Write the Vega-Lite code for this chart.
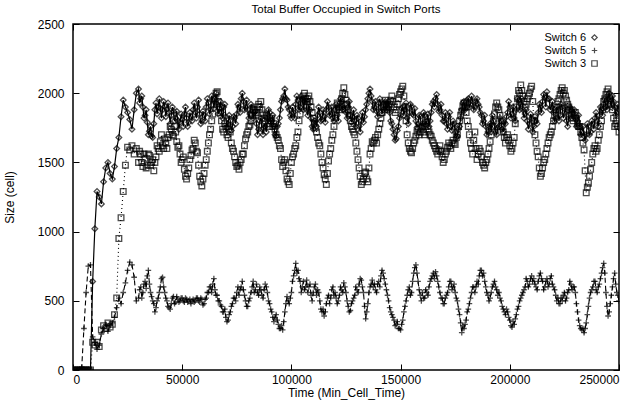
{
"$schema":"https://vega.github.io/schema/vega-lite/v6.json",
"width":546,"height":346,
"autosize":"none",
"padding":{"left":73,"top":24,"right":17,"bottom":31},
"title":{"text":"Total Buffer Occupied in Switch Ports","fontSize":11.5,"fontWeight":"normal","offset":3,"color":"black"},
"config":{"font":"Liberation Sans","view":{"stroke":"black","strokeWidth":1.5},
"axis":{"grid":false,"domain":false,"tickColor":"black","tickSize":-6,"labelPadding":10,"labelColor":"black","labelFontSize":12,"titleFontSize":12,"titleFontWeight":"normal","titleColor":"black"}},
"data":{"values":[
{"t":0,"a":0,"b":0,"c":0},{"t":1000,"a":0,"b":0,"c":0},{"t":2000,"a":0,"b":0,"c":0},{"t":3000,"a":0,"b":0,"c":0},{"t":4000,"a":0,"b":20,"c":0},{"t":5000,"a":0,"b":300,"c":0},{"t":6000,"a":0,"b":560,"c":0},{"t":7000,"a":0,"b":750,"c":0},{"t":8000,"a":0,"b":760,"c":0},{"t":9000,"a":640,"b":240,"c":200},
{"t":10000,"a":1020,"b":200,"c":180},{"t":11000,"a":1290,"b":150,"c":200},{"t":12000,"a":1250,"b":180,"c":170},{"t":13000,"a":1200,"b":260,"c":290},{"t":14000,"a":1360,"b":300,"c":320},{"t":15000,"a":1460,"b":330,"c":300},{"t":16000,"a":1500,"b":280,"c":340},{"t":17000,"a":1420,"b":320,"c":310},{"t":18000,"a":1380,"b":340,"c":330},{"t":19000,"a":1470,"b":380,"c":400},
{"t":20000,"a":1600,"b":450,"c":520},{"t":21000,"a":1680,"b":520,"c":950},{"t":22000,"a":1830,"b":480,"c":1100},{"t":23000,"a":1950,"b":560,"c":1290},{"t":24000,"a":1900,"b":630,"c":1480},{"t":25000,"a":1860,"b":720,"c":1610},{"t":26000,"a":1810,"b":780,"c":1590},{"t":27000,"a":1740,"b":760,"c":1620},{"t":28000,"a":1880,"b":670,"c":1560},{"t":29000,"a":2000,"b":500,"c":1600},
{"t":30000,"a":2030,"b":520,"c":1500},{"t":31000,"a":1960,"b":600,"c":1560},{"t":32000,"a":1900,"b":560,"c":1470},{"t":33000,"a":1840,"b":640,"c":1530},{"t":34000,"a":1790,"b":680,"c":1480},{"t":35000,"a":1725,"b":620,"c":1550},{"t":36000,"a":1690,"b":530,"c":1500},{"t":37000,"a":1780,"b":480,"c":1440},{"t":38000,"a":1930,"b":450,"c":1540},{"t":39000,"a":1900,"b":520,"c":1600},
{"t":40000,"a":1890,"b":600,"c":1650},{"t":41000,"a":1880,"b":670,"c":1620},{"t":42000,"a":1905,"b":560,"c":1670},{"t":43000,"a":1885,"b":500,"c":1600},{"t":44000,"a":1860,"b":450,"c":1700},{"t":45000,"a":1840,"b":480,"c":1740},{"t":46000,"a":1870,"b":530,"c":1690},{"t":47000,"a":1820,"b":490,"c":1720},{"t":48000,"a":1800,"b":510,"c":1610},{"t":49000,"a":1790,"b":500,"c":1560},
{"t":50000,"a":1810,"b":520,"c":1520},{"t":51000,"a":1850,"b":490,"c":1450},{"t":52000,"a":1820,"b":510,"c":1380},{"t":53000,"a":1790,"b":500,"c":1460},{"t":54000,"a":1830,"b":480,"c":1550},{"t":55000,"a":1880,"b":510,"c":1600},{"t":56000,"a":1860,"b":500,"c":1640},{"t":57000,"a":1900,"b":520,"c":1570},{"t":58000,"a":1850,"b":490,"c":1400},{"t":59000,"a":1800,"b":510,"c":1330},
{"t":60000,"a":1840,"b":480,"c":1420},{"t":61000,"a":1900,"b":520,"c":1520},{"t":62000,"a":1930,"b":560,"c":1640},{"t":63000,"a":1880,"b":600,"c":1740},{"t":64000,"a":1950,"b":620,"c":1850},{"t":65000,"a":1960,"b":580,"c":1960},{"t":66000,"a":1920,"b":540,"c":2010},{"t":67000,"a":1890,"b":500,"c":1900},{"t":68000,"a":1860,"b":460,"c":1800},{"t":69000,"a":1900,"b":420,"c":1720},
{"t":70000,"a":1830,"b":380,"c":1760},{"t":71000,"a":1780,"b":360,"c":1680},{"t":72000,"a":1800,"b":420,"c":1720},{"t":73000,"a":1760,"b":480,"c":1600},{"t":74000,"a":1820,"b":520,"c":1540},{"t":75000,"a":1850,"b":560,"c":1470},{"t":76000,"a":1900,"b":540,"c":1450},{"t":77000,"a":1960,"b":600,"c":1520},{"t":78000,"a":1940,"b":580,"c":1560},{"t":79000,"a":1900,"b":500,"c":1670},
{"t":80000,"a":1880,"b":460,"c":1720},{"t":81000,"a":1850,"b":520,"c":1770},{"t":82000,"a":1900,"b":600,"c":1840},{"t":83000,"a":1860,"b":560,"c":1880},{"t":84000,"a":1780,"b":620,"c":1860},{"t":85000,"a":1740,"b":540,"c":1920},{"t":86000,"a":1820,"b":580,"c":1940},{"t":87000,"a":1700,"b":520,"c":1850},{"t":88000,"a":1760,"b":620,"c":1800},{"t":89000,"a":1820,"b":560,"c":1830},
{"t":90000,"a":1860,"b":480,"c":1760},{"t":91000,"a":1800,"b":420,"c":1820},{"t":92000,"a":1760,"b":350,"c":1780},{"t":93000,"a":1690,"b":400,"c":1700},{"t":94000,"a":1780,"b":330,"c":1660},{"t":95000,"a":1880,"b":300,"c":1600},{"t":96000,"a":1960,"b":290,"c":1470},{"t":97000,"a":2030,"b":420,"c":1520},{"t":98000,"a":1950,"b":530,"c":1380},{"t":99000,"a":1880,"b":480,"c":1340},
{"t":100000,"a":1820,"b":560,"c":1500},{"t":101000,"a":1860,"b":680,"c":1560},{"t":102000,"a":1920,"b":770,"c":1620},{"t":103000,"a":1950,"b":720,"c":1720},{"t":104000,"a":1900,"b":640,"c":1850},{"t":105000,"a":1960,"b":600,"c":1950},{"t":106000,"a":1940,"b":580,"c":2000},{"t":107000,"a":1880,"b":650,"c":1940},{"t":108000,"a":1920,"b":600,"c":1980},{"t":109000,"a":1820,"b":540,"c":1900},
{"t":110000,"a":1740,"b":560,"c":1820},{"t":111000,"a":1800,"b":620,"c":1750},{"t":112000,"a":1840,"b":580,"c":1680},{"t":113000,"a":1860,"b":500,"c":1620},{"t":114000,"a":1810,"b":420,"c":1500},{"t":115000,"a":1830,"b":390,"c":1410},{"t":116000,"a":1880,"b":480,"c":1340},{"t":117000,"a":1900,"b":540,"c":1510},{"t":118000,"a":1850,"b":520,"c":1600},{"t":119000,"a":1820,"b":600,"c":1700},
{"t":120000,"a":1880,"b":560,"c":1820},{"t":121000,"a":1840,"b":480,"c":1930},{"t":122000,"a":1900,"b":540,"c":1880},{"t":123000,"a":1940,"b":580,"c":1960},{"t":124000,"a":1880,"b":630,"c":2040},{"t":125000,"a":1860,"b":560,"c":1950},{"t":126000,"a":1900,"b":460,"c":1880},{"t":127000,"a":1840,"b":430,"c":1800},{"t":128000,"a":1830,"b":500,"c":1740},{"t":129000,"a":1800,"b":540,"c":1700},
{"t":130000,"a":1840,"b":580,"c":1580},{"t":131000,"a":1760,"b":620,"c":1460},{"t":132000,"a":1800,"b":650,"c":1340},{"t":133000,"a":1790,"b":560,"c":1380},{"t":134000,"a":1880,"b":370,"c":1430},{"t":135000,"a":1960,"b":480,"c":1360},{"t":136000,"a":2030,"b":600,"c":1560},{"t":137000,"a":1940,"b":650,"c":1650},{"t":138000,"a":1900,"b":620,"c":1660},{"t":139000,"a":1870,"b":560,"c":1640},
{"t":140000,"a":1930,"b":640,"c":1740},{"t":141000,"a":1900,"b":680,"c":1820},{"t":142000,"a":1880,"b":700,"c":1900},{"t":143000,"a":1940,"b":620,"c":1950},{"t":144000,"a":1900,"b":540,"c":1880},{"t":145000,"a":1860,"b":450,"c":1920},{"t":146000,"a":1780,"b":400,"c":1980},{"t":147000,"a":1700,"b":360,"c":1900},{"t":148000,"a":1670,"b":330,"c":1880},{"t":149000,"a":1760,"b":300,"c":1960},
{"t":150000,"a":1840,"b":290,"c":2010},{"t":151000,"a":1900,"b":360,"c":2050},{"t":152000,"a":1880,"b":460,"c":1900},{"t":153000,"a":1820,"b":540,"c":1700},{"t":154000,"a":1860,"b":600,"c":1600},{"t":155000,"a":1900,"b":560,"c":1570},{"t":156000,"a":1840,"b":700,"c":1640},{"t":157000,"a":1800,"b":760,"c":1690},{"t":158000,"a":1780,"b":640,"c":1740},{"t":159000,"a":1830,"b":540,"c":1720},
{"t":160000,"a":1780,"b":560,"c":1760},{"t":161000,"a":1840,"b":520,"c":1700},{"t":162000,"a":1800,"b":560,"c":1790},{"t":163000,"a":1760,"b":600,"c":1720},{"t":164000,"a":1860,"b":660,"c":1690},{"t":165000,"a":1940,"b":700,"c":1640},{"t":166000,"a":1960,"b":710,"c":1600},{"t":167000,"a":1920,"b":640,"c":1560},{"t":168000,"a":1880,"b":560,"c":1620},{"t":169000,"a":1840,"b":520,"c":1540},
{"t":170000,"a":1800,"b":480,"c":1520},{"t":171000,"a":1780,"b":540,"c":1580},{"t":172000,"a":1830,"b":600,"c":1640},{"t":173000,"a":1760,"b":640,"c":1600},{"t":174000,"a":1800,"b":600,"c":1660},{"t":175000,"a":1720,"b":560,"c":1630},{"t":176000,"a":1690,"b":500,"c":1700},{"t":177000,"a":1760,"b":400,"c":1800},{"t":178000,"a":1880,"b":270,"c":1870},{"t":179000,"a":1940,"b":300,"c":1930},
{"t":180000,"a":1900,"b":360,"c":1860},{"t":181000,"a":1960,"b":440,"c":1760},{"t":182000,"a":1920,"b":520,"c":1640},{"t":183000,"a":1940,"b":600,"c":1560},{"t":184000,"a":1900,"b":560,"c":1720},{"t":185000,"a":1960,"b":640,"c":1520},{"t":186000,"a":1900,"b":680,"c":1600},{"t":187000,"a":1840,"b":720,"c":1540},{"t":188000,"a":1800,"b":700,"c":1480},{"t":189000,"a":1760,"b":600,"c":1500},
{"t":190000,"a":1720,"b":540,"c":1560},{"t":191000,"a":1780,"b":520,"c":1650},{"t":192000,"a":1840,"b":600,"c":1760},{"t":193000,"a":1760,"b":640,"c":1850},{"t":194000,"a":1700,"b":580,"c":1930},{"t":195000,"a":1760,"b":560,"c":1880},{"t":196000,"a":1800,"b":500,"c":1800},{"t":197000,"a":1720,"b":440,"c":1720},{"t":198000,"a":1780,"b":400,"c":1640},{"t":199000,"a":1860,"b":420,"c":1700},
{"t":200000,"a":1900,"b":360,"c":1620},{"t":201000,"a":1850,"b":310,"c":1600},{"t":202000,"a":1820,"b":330,"c":1680},{"t":203000,"a":1880,"b":400,"c":1900},{"t":204000,"a":1950,"b":460,"c":2020},{"t":205000,"a":1920,"b":520,"c":2060},{"t":206000,"a":1880,"b":560,"c":1980},{"t":207000,"a":1850,"b":600,"c":1900},{"t":208000,"a":1800,"b":640,"c":1960},{"t":209000,"a":1780,"b":620,"c":2000},
{"t":210000,"a":1820,"b":680,"c":2050},{"t":211000,"a":1760,"b":660,"c":1800},{"t":212000,"a":1800,"b":600,"c":1640},{"t":213000,"a":1860,"b":640,"c":1540},{"t":214000,"a":1900,"b":700,"c":1400},{"t":215000,"a":1940,"b":640,"c":1460},{"t":216000,"a":1970,"b":600,"c":1520},{"t":217000,"a":2010,"b":660,"c":1600},{"t":218000,"a":1960,"b":620,"c":1680},{"t":219000,"a":1900,"b":680,"c":1720},
{"t":220000,"a":1860,"b":600,"c":1800},{"t":221000,"a":1820,"b":540,"c":1880},{"t":222000,"a":1880,"b":520,"c":1940},{"t":223000,"a":1840,"b":480,"c":1990},{"t":224000,"a":1900,"b":500,"c":2040},{"t":225000,"a":1860,"b":560,"c":2020},{"t":226000,"a":1800,"b":520,"c":1950},{"t":227000,"a":1840,"b":580,"c":1900},{"t":228000,"a":1880,"b":620,"c":1850},{"t":229000,"a":1860,"b":600,"c":1800},
{"t":230000,"a":1820,"b":560,"c":1860},{"t":231000,"a":1800,"b":420,"c":1780},{"t":232000,"a":1760,"b":320,"c":1760},{"t":233000,"a":1720,"b":290,"c":1680},{"t":234000,"a":1690,"b":270,"c":1590},{"t":235000,"a":1700,"b":340,"c":1280},{"t":236000,"a":1760,"b":460,"c":1350},{"t":237000,"a":1720,"b":560,"c":1450},{"t":238000,"a":1780,"b":600,"c":1560},{"t":239000,"a":1820,"b":640,"c":1620},
{"t":240000,"a":1800,"b":560,"c":1600},{"t":241000,"a":1840,"b":620,"c":1700},{"t":242000,"a":1880,"b":700,"c":1800},{"t":243000,"a":1920,"b":770,"c":1940},{"t":244000,"a":1900,"b":560,"c":1990},{"t":245000,"a":1960,"b":390,"c":2030},{"t":246000,"a":1940,"b":480,"c":1960},{"t":247000,"a":1980,"b":600,"c":1880},{"t":248000,"a":1900,"b":700,"c":1760},{"t":249000,"a":1860,"b":560,"c":1800},
{"t":250000,"a":1880,"b":500,"c":1720},
{"t":30500,"a":1930,"b":580,"c":1580},{"t":31500,"a":1980,"b":520,"c":1500},{"t":32500,"a":1820,"b":620,"c":1560},{"t":33500,"a":1880,"b":590,"c":1460},{"t":34500,"a":1700,"b":720,"c":1560},{"t":35500,"a":1760,"b":560,"c":1480},{"t":36500,"a":1680,"b":500,"c":1520},{"t":37500,"a":1880,"b":420,"c":1500},{"t":38500,"a":1850,"b":500,"c":1620},{"t":39500,"a":1960,"b":560,"c":1580},
{"t":40500,"a":1820,"b":660,"c":1700},{"t":41500,"a":1940,"b":600,"c":1600},{"t":42500,"a":1830,"b":520,"c":1640},{"t":43500,"a":1930,"b":460,"c":1680},{"t":44500,"a":1780,"b":440,"c":1760},{"t":45500,"a":1900,"b":520,"c":1700},{"t":46500,"a":1800,"b":480,"c":1760},{"t":47500,"a":1870,"b":530,"c":1650},{"t":48500,"a":1740,"b":490,"c":1620},{"t":49500,"a":1850,"b":520,"c":1500},
{"t":50500,"a":1760,"b":500,"c":1540},{"t":51500,"a":1900,"b":520,"c":1400},{"t":52500,"a":1760,"b":490,"c":1420},{"t":53500,"a":1860,"b":510,"c":1520},{"t":54500,"a":1800,"b":500,"c":1590},{"t":55500,"a":1930,"b":490,"c":1660},{"t":56500,"a":1820,"b":520,"c":1580},{"t":57500,"a":1950,"b":500,"c":1480},{"t":58500,"a":1780,"b":520,"c":1360},{"t":59500,"a":1870,"b":470,"c":1380},
{"t":60500,"a":1800,"b":510,"c":1480},{"t":61500,"a":1960,"b":560,"c":1580},{"t":62500,"a":1850,"b":600,"c":1700},{"t":63500,"a":1980,"b":560,"c":1800},{"t":64500,"a":1890,"b":660,"c":1920},{"t":65500,"a":2000,"b":540,"c":2000},{"t":66500,"a":1850,"b":500,"c":1940},{"t":67500,"a":1940,"b":470,"c":1860},{"t":68500,"a":1820,"b":420,"c":1740},{"t":69500,"a":1920,"b":440,"c":1780},
{"t":70500,"a":1750,"b":350,"c":1700},{"t":71500,"a":1840,"b":400,"c":1740},{"t":72500,"a":1730,"b":460,"c":1640},{"t":73500,"a":1830,"b":520,"c":1580},{"t":74500,"a":1780,"b":500,"c":1500},{"t":75500,"a":1920,"b":600,"c":1480},{"t":76500,"a":1860,"b":580,"c":1500},{"t":77500,"a":2000,"b":640,"c":1560},{"t":78500,"a":1880,"b":540,"c":1620},{"t":79500,"a":1950,"b":460,"c":1700},
{"t":80500,"a":1820,"b":500,"c":1760},{"t":81500,"a":1920,"b":560,"c":1800},{"t":82500,"a":1820,"b":640,"c":1880},{"t":83500,"a":1870,"b":580,"c":1840},{"t":84500,"a":1700,"b":560,"c":1900},{"t":85500,"a":1800,"b":600,"c":1900},{"t":86500,"a":1740,"b":540,"c":1880},{"t":87500,"a":1780,"b":580,"c":1820},{"t":88500,"a":1720,"b":600,"c":1840},{"t":89500,"a":1880,"b":500,"c":1780},
{"t":90500,"a":1790,"b":440,"c":1800},{"t":91500,"a":1840,"b":380,"c":1760},{"t":92500,"a":1700,"b":380,"c":1740},{"t":93500,"a":1760,"b":360,"c":1680},{"t":94500,"a":1820,"b":300,"c":1620},{"t":95500,"a":1940,"b":320,"c":1520},{"t":96500,"a":1980,"b":350,"c":1500},{"t":97500,"a":1960,"b":480,"c":1440},{"t":98500,"a":1900,"b":500,"c":1360},{"t":99500,"a":1840,"b":520,"c":1420},
{"t":100500,"a":1900,"b":640,"c":1540},{"t":101500,"a":1820,"b":720,"c":1600},{"t":102500,"a":1980,"b":700,"c":1680},{"t":103500,"a":1880,"b":660,"c":1800},{"t":104500,"a":1980,"b":560,"c":1900},{"t":105500,"a":1880,"b":640,"c":1980},{"t":106500,"a":1960,"b":600,"c":1960},{"t":107500,"a":1840,"b":560,"c":1960},{"t":108500,"a":1880,"b":620,"c":1940},{"t":109500,"a":1760,"b":500,"c":1860},
{"t":110500,"a":1800,"b":600,"c":1780},{"t":111500,"a":1760,"b":540,"c":1720},{"t":112500,"a":1900,"b":560,"c":1640},{"t":113500,"a":1800,"b":440,"c":1560},{"t":114500,"a":1880,"b":440,"c":1460},{"t":115500,"a":1790,"b":420,"c":1380},{"t":116500,"a":1940,"b":520,"c":1420},{"t":117500,"a":1840,"b":480,"c":1560},{"t":118500,"a":1900,"b":580,"c":1660},{"t":119500,"a":1800,"b":540,"c":1760},
{"t":120500,"a":1920,"b":520,"c":1880},{"t":121500,"a":1800,"b":500,"c":1900},{"t":122500,"a":1960,"b":600,"c":1920},{"t":123500,"a":1880,"b":560,"c":2000},{"t":124500,"a":1920,"b":600,"c":1990},{"t":125500,"a":1820,"b":500,"c":1920},{"t":126500,"a":1940,"b":420,"c":1840},{"t":127500,"a":1790,"b":480,"c":1760},{"t":128500,"a":1880,"b":520,"c":1720},{"t":129500,"a":1760,"b":600,"c":1640},
{"t":130500,"a":1820,"b":560,"c":1520},{"t":131500,"a":1720,"b":660,"c":1400},{"t":132500,"a":1860,"b":600,"c":1360},{"t":133500,"a":1830,"b":460,"c":1420},{"t":134500,"a":1920,"b":420,"c":1380},{"t":135500,"a":2000,"b":560,"c":1460},{"t":136500,"a":1980,"b":620,"c":1600},{"t":137500,"a":1880,"b":600,"c":1640},{"t":138500,"a":1940,"b":580,"c":1680},{"t":139500,"a":1830,"b":620,"c":1700},
{"t":140500,"a":1960,"b":600,"c":1780},{"t":141500,"a":1850,"b":720,"c":1860},{"t":142500,"a":1930,"b":660,"c":1920},{"t":143500,"a":1880,"b":580,"c":1920},{"t":144500,"a":1940,"b":500,"c":1900},{"t":145500,"a":1800,"b":420,"c":1950},{"t":146500,"a":1740,"b":380,"c":1940},{"t":147500,"a":1660,"b":320,"c":1860},{"t":148500,"a":1730,"b":350,"c":1920},{"t":149500,"a":1820,"b":300,"c":1990},
{"t":150500,"a":1890,"b":330,"c":2030},{"t":151500,"a":1840,"b":420,"c":1980},{"t":152500,"a":1930,"b":500,"c":1800},{"t":153500,"a":1780,"b":580,"c":1640},{"t":154500,"a":1920,"b":540,"c":1580},{"t":155500,"a":1850,"b":640,"c":1600},{"t":156500,"a":1890,"b":740,"c":1660},{"t":157500,"a":1750,"b":700,"c":1720},{"t":158500,"a":1840,"b":580,"c":1700},{"t":159500,"a":1760,"b":500,"c":1750},
{"t":160500,"a":1860,"b":520,"c":1720},{"t":161500,"a":1770,"b":580,"c":1760},{"t":162500,"a":1850,"b":540,"c":1740},{"t":163500,"a":1800,"b":640,"c":1700},{"t":164500,"a":1920,"b":680,"c":1660},{"t":165500,"a":1900,"b":660,"c":1620},{"t":166500,"a":1990,"b":680,"c":1580},{"t":167500,"a":1870,"b":600,"c":1590},{"t":168500,"a":1920,"b":520,"c":1580},{"t":169500,"a":1800,"b":480,"c":1500},
{"t":170500,"a":1860,"b":520,"c":1560},{"t":171500,"a":1740,"b":560,"c":1610},{"t":172500,"a":1860,"b":640,"c":1620},{"t":173500,"a":1730,"b":580,"c":1640},{"t":174500,"a":1780,"b":620,"c":1640},{"t":175500,"a":1680,"b":520,"c":1680},{"t":176500,"a":1740,"b":440,"c":1760},{"t":177500,"a":1820,"b":340,"c":1840},{"t":178500,"a":1930,"b":320,"c":1900},{"t":179500,"a":1880,"b":330,"c":1900},
{"t":180500,"a":1950,"b":420,"c":1800},{"t":181500,"a":1900,"b":480,"c":1700},{"t":182500,"a":1980,"b":560,"c":1600},{"t":183500,"a":1880,"b":600,"c":1660},{"t":184500,"a":1940,"b":600,"c":1600},{"t":185500,"a":1920,"b":620,"c":1560},{"t":186500,"a":1860,"b":720,"c":1580},{"t":187500,"a":1780,"b":680,"c":1500},{"t":188500,"a":1840,"b":640,"c":1460},{"t":189500,"a":1700,"b":560,"c":1520},
{"t":190500,"a":1760,"b":500,"c":1600},{"t":191500,"a":1720,"b":560,"c":1700},{"t":192500,"a":1800,"b":620,"c":1800},{"t":193500,"a":1720,"b":600,"c":1900},{"t":194500,"a":1750,"b":540,"c":1900},{"t":195500,"a":1820,"b":520,"c":1840},{"t":196500,"a":1740,"b":460,"c":1760},{"t":197500,"a":1790,"b":420,"c":1680},{"t":198500,"a":1830,"b":440,"c":1680},{"t":199500,"a":1940,"b":380,"c":1660},
{"t":200500,"a":1820,"b":320,"c":1580},{"t":201500,"a":1900,"b":350,"c":1640},{"t":202500,"a":1800,"b":370,"c":1780},{"t":203500,"a":1960,"b":440,"c":1960},{"t":204500,"a":1880,"b":500,"c":2000},{"t":205500,"a":1960,"b":540,"c":2020},{"t":206500,"a":1820,"b":580,"c":1940},{"t":207500,"a":1880,"b":660,"c":1920},{"t":208500,"a":1740,"b":600,"c":1980},{"t":209500,"a":1850,"b":660,"c":2030},
{"t":210500,"a":1720,"b":640,"c":1940},{"t":211500,"a":1830,"b":620,"c":1700},{"t":212500,"a":1780,"b":580,"c":1580},{"t":213500,"a":1920,"b":680,"c":1460},{"t":214500,"a":1860,"b":660,"c":1420},{"t":215500,"a":1990,"b":580,"c":1500},{"t":216500,"a":1900,"b":640,"c":1560},{"t":217500,"a":1960,"b":600,"c":1640},{"t":218500,"a":1880,"b":660,"c":1700},{"t":219500,"a":1940,"b":620,"c":1760},
{"t":220500,"a":1800,"b":580,"c":1840},{"t":221500,"a":1900,"b":500,"c":1900},{"t":222500,"a":1800,"b":480,"c":1960},{"t":223500,"a":1920,"b":520,"c":2020},{"t":224500,"a":1820,"b":540,"c":2000},{"t":225500,"a":1900,"b":500,"c":1980},{"t":226500,"a":1760,"b":560,"c":1920},{"t":227500,"a":1900,"b":640,"c":1880},{"t":228500,"a":1820,"b":580,"c":1820},{"t":229500,"a":1880,"b":600,"c":1840},
{"t":230500,"a":1760,"b":480,"c":1820},{"t":231500,"a":1840,"b":360,"c":1760},{"t":232500,"a":1700,"b":300,"c":1720},{"t":233500,"a":1760,"b":300,"c":1640},{"t":234500,"a":1660,"b":300,"c":1440},{"t":235500,"a":1780,"b":400,"c":1320},{"t":236500,"a":1700,"b":520,"c":1400},{"t":237500,"a":1800,"b":580,"c":1500},{"t":238500,"a":1740,"b":640,"c":1600},{"t":239500,"a":1860,"b":580,"c":1580},
{"t":240500,"a":1760,"b":600,"c":1660},{"t":241500,"a":1900,"b":660,"c":1760},{"t":242500,"a":1840,"b":740,"c":1880},{"t":243500,"a":1960,"b":700,"c":1960},{"t":244500,"a":1880,"b":460,"c":2010},{"t":245500,"a":2000,"b":420,"c":1980},{"t":246500,"a":1900,"b":540,"c":1920},{"t":247500,"a":1940,"b":660,"c":1820},{"t":248500,"a":1840,"b":620,"c":1780},{"t":249500,"a":1920,"b":540,"c":1760}
]},
"transform":[{"fold":["a","b","c"],"as":["k","v"]}],
"encoding":{
"x":{"field":"t","type":"quantitative","scale":{"domain":[0,250000],"nice":false}},
"y":{"field":"v","type":"quantitative","scale":{"domain":[0,2500],"nice":false}}
},
"layer":[
{"transform":[{"filter":"datum.k == 'a'"}],
"mark":{"type":"line","color":"black","strokeWidth":1.2,"clip":true},
"encoding":{
"x":{"field":"t","type":"quantitative","axis":{"values":[0,50000,100000,150000,200000,250000],"format":"d","title":"Time (Min_Cell_Time)","titlePadding":2}},
"y":{"field":"v","type":"quantitative","axis":{"values":[0,500,1000,1500,2000,2500],"format":"d","title":"Size (cell)","labelPadding":15,"titlePadding":21}}}},
{"transform":[{"filter":"datum.k == 'b'"}],
"mark":{"type":"line","color":"black","strokeWidth":1.1,"strokeDash":[5,3],"clip":true},
"encoding":{
"x":{"field":"t","type":"quantitative","axis":null},
"y":{"field":"v","type":"quantitative","axis":null}}},
{"transform":[{"filter":"datum.k == 'c'"}],
"mark":{"type":"line","color":"black","strokeWidth":1.1,"strokeDash":[1,3],"clip":true},
"encoding":{
"x":{"field":"t","type":"quantitative","axis":null},
"y":{"field":"v","type":"quantitative","axis":null}}},
{"mark":{"type":"point","filled":false,"color":"black","strokeWidth":1.3,"size":32,"clip":true},
"encoding":{
"x":{"field":"t","type":"quantitative","axis":{"orient":"top","values":[0,50000,100000,150000,200000,250000],"labels":false,"title":null}},
"y":{"field":"v","type":"quantitative","axis":{"orient":"right","values":[0,500,1000,1500,2000,2500],"labels":false,"title":null}},
"shape":{"field":"k","type":"nominal","scale":{"domain":["a","b","c"],"range":["diamond","M-1,0H1M0,-1V1","square"]},
"legend":{"title":null,"orient":"none","legendX":516,"legendY":8,"labelExpr":"datum.label == 'a' ? 'Switch 6' : datum.label == 'b' ? 'Switch 5' : 'Switch 3'","labelAlign":"right","labelOffset":-14,"labelFontSize":11,"labelColor":"black","rowPadding":1,"symbolStrokeColor":"black","symbolFillColor":"transparent","symbolSize":30,"symbolStrokeWidth":1.2}}}}
],
"resolve":{"axis":{"x":"independent","y":"independent"}}
}
